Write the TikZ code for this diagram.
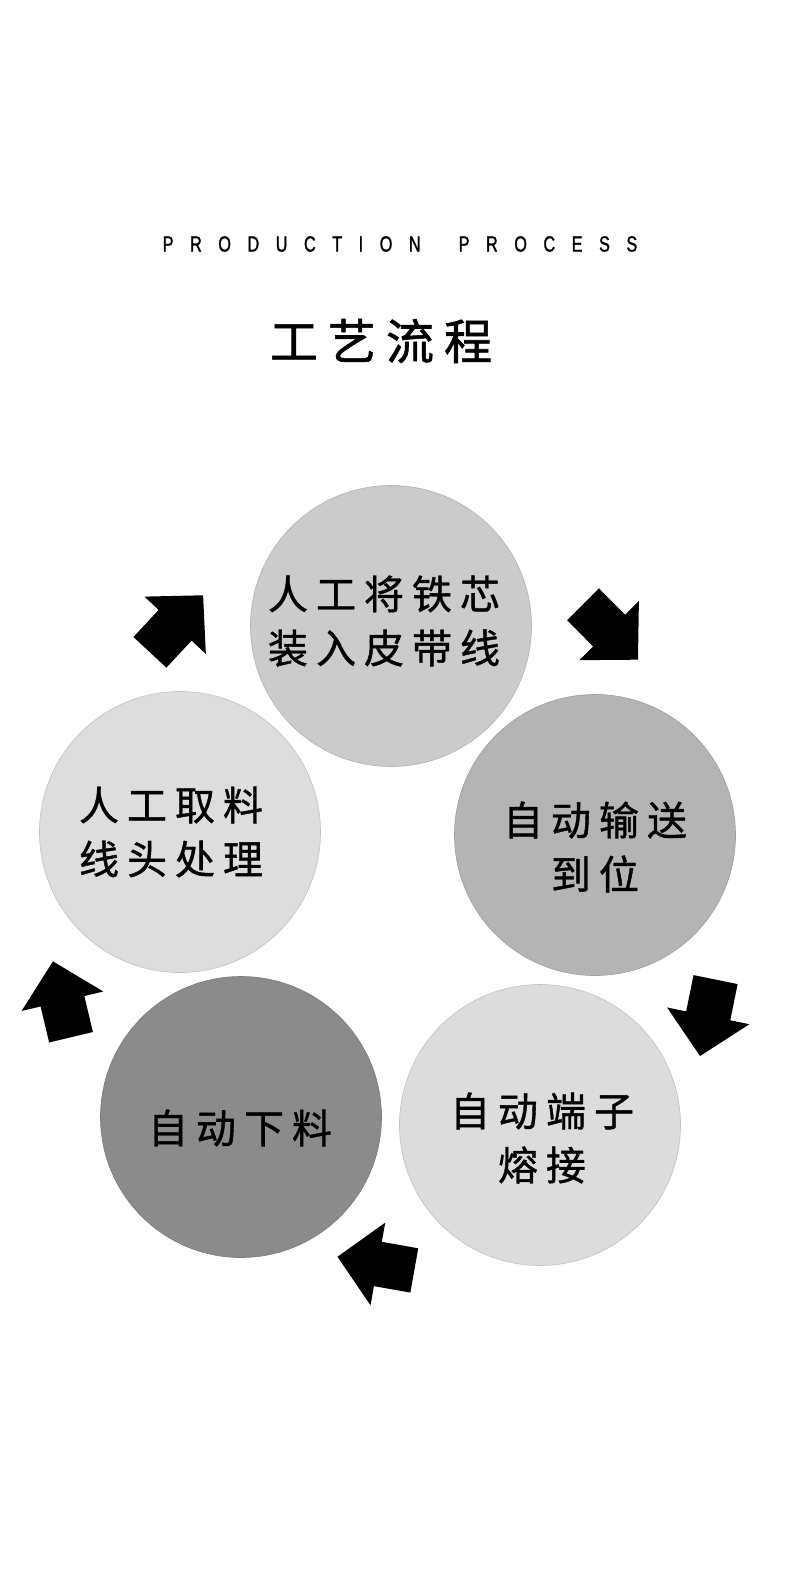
\documentclass[tikz,border=0pt]{standalone}
\usepackage{fontspec}
\setmainfont{Liberation Sans}
\newfontfamily\cjkstep[LetterSpace=20,FakeBold=1]{Noto Sans CJK SC}
\newfontfamily\cjktitle[LetterSpace=21,FakeBold=1.2]{Noto Sans CJK SC}
\newfontfamily\headfont[FakeStretch=0.74,LetterSpace=75,FakeBold=1.2]{Liberation Sans}
\usetikzlibrary{positioning}
\usepackage[dvipsnames]{xcolor}

\definecolor{discfeed}{HTML}{CBCBCB}
\definecolor{discmove}{HTML}{B4B4B4}
\definecolor{disctrim}{HTML}{DDDDDD}
\definecolor{discweld}{HTML}{DCDCDC}
\definecolor{discdrop}{HTML}{8B8B8B}

\tikzset{
  turnarrow/.pic={
    \fill[black] (-39,-22.5) -- (-2,-22.5) -- (-2,-42) -- (39,0)
                 -- (-2,42) -- (-2,22.5) -- (-39,22.5) -- cycle;
  }
}

\begin{document}
\begin{tikzpicture}[
    x=1pt, y=1pt,
    disc/.style={
        circle,
        fill=#1,               % grey tone of the step
        draw=#1!88!black,      % thin, slightly darker rim
        line width=0.6pt,
        minimum size=281pt,
        inner sep=0pt
    },
    steptext/.style={
        align=center,
        inner sep=0pt,
        font=\cjkstep\fontsize{40}{54}\selectfont
    }
]
\useasboundingbox[fill=white] (0,0) rectangle (790,-1587);

% heading
\node[font=\headfont\fontsize{22}{24}\selectfont, inner sep=0pt] (head) at (400,-244) {PRODUCTION\hspace{17pt} PROCESS};
\node[font=\cjktitle\fontsize{48}{52}\selectfont, inner sep=0pt] (title) at (381,-341) {工艺流程};

% the five steps
\node[disc=discfeed] (feed)   at (391,-626)  {};
\node[disc=discmove] (convey) at (595,-835)  {};
\node[disc=discweld] (weld)   at (540,-1125) {};
\node[disc=discdrop] (unload) at (241,-1117) {};
\node[disc=disctrim] (trim)   at (180,-832)  {};

\node[steptext] (feedtext)   at ([shift={(-7,5)}]feed.center)     {人工将铁芯\\装入皮带线};
\node[steptext] (conveytext) at ([shift={(0,-12)}]convey.center)  {自动输送\\到位};
\node[steptext] (weldtext)   at ([shift={(2,-13)}]weld.center)    {自动端子\\熔接};
\node[steptext] (unloadtext) at ([shift={(-1,-11)}]unload.center) {自动下料};
\node[steptext] (trimtext)   at ([shift={(-9,0)}]trim.center)     {人工取料\\线头处理};

% block arrows between the steps
\pic[rotate=47]     at (176.5,-623.8) {turnarrow};
\pic[rotate=-45.2]  at (610.5,-632)   {turnarrow};
\pic[rotate=-101.5] at (707.8,-1017.8) {turnarrow};
\pic[rotate=169.9]  at (375.9,-1263.6) {turnarrow};
\pic[rotate=103.4]  at (62,-999.3)    {turnarrow};
\end{tikzpicture}
\end{document}
